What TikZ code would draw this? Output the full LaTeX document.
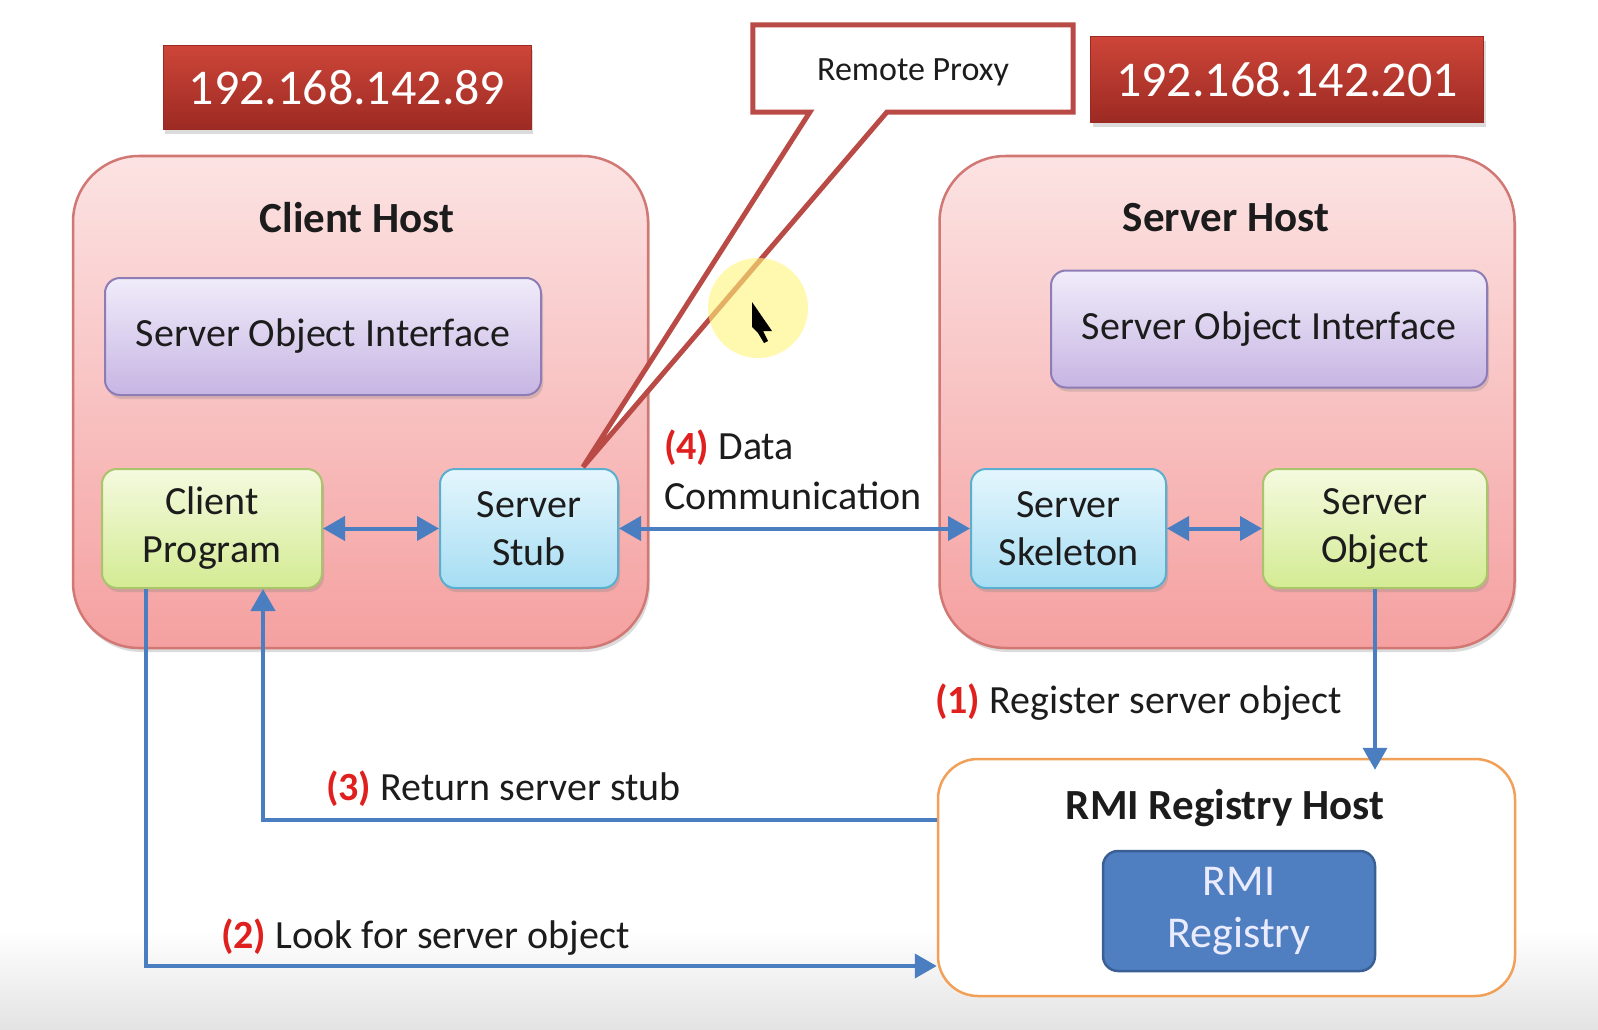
\documentclass[tikz,border=0pt]{standalone}
\usepackage{fontspec}
\setmainfont{Carlito}
\usetikzlibrary{shadows,arrows.meta,calc}
\definecolor{ipTop}{HTML}{CD4538}
\definecolor{ipBot}{HTML}{9C2A23}
\definecolor{hTop}{HTML}{FCE3E3}
\definecolor{hBot}{HTML}{F5A0A0}
\definecolor{hLine}{HTML}{D27874}
\definecolor{pTop}{HTML}{F0ECFA}
\definecolor{pBot}{HTML}{C7B5E3}
\definecolor{pLine}{HTML}{8E7CB6}
\definecolor{gTop}{HTML}{F4FADF}
\definecolor{gBot}{HTML}{D4EB93}
\definecolor{gLine}{HTML}{A9C46B}
\definecolor{bTop}{HTML}{E4F6FD}
\definecolor{bBot}{HTML}{A6DDF3}
\definecolor{bLine}{HTML}{5AAFD0}
\definecolor{orLine}{HTML}{F2A057}
\definecolor{regFill}{HTML}{4F7FC0}
\definecolor{regLine}{HTML}{3A5F95}
\definecolor{arrC}{HTML}{4A7EC0}
\definecolor{callC}{HTML}{B94A45}
\definecolor{numRed}{HTML}{E0201E}
\definecolor{txt}{HTML}{1C1C1C}
\definecolor{curY}{HTML}{FFF47A}
\newcommand{\boxfont}{\fontsize{40}{48}\selectfont}
\newcommand{\titlefont}{\fontsize{43}{50}\selectfont\bfseries}
\newcommand{\num}[1]{\textcolor{numRed}{\bfseries(#1)}}
\tikzset{
  shd/.style={drop shadow={opacity=0.28, shadow xshift=2pt, shadow yshift=-4pt}},
  ipbox/.style={top color=ipTop, bottom color=ipBot, draw=ipBot, line width=1pt, text=white,
    font=\fontsize{50}{60}\selectfont, inner sep=0pt, shd},
  hostbox/.style={rounded corners=66pt, top color=hTop, bottom color=hBot, draw=hLine,
    line width=2.5pt, minimum width=575pt, minimum height=492pt, shd},
  inbox/.style={rounded corners=15pt, line width=2pt, align=center, font=\boxfont, text=txt,
    inner sep=0pt, shd},
  pbox/.style={inbox, top color=pTop, bottom color=pBot, draw=pLine, minimum width=436pt, minimum height=117pt},
  gbox/.style={inbox, top color=gTop, bottom color=gBot, draw=gLine, minimum height=119pt},
  bbox/.style={inbox, top color=bTop, bottom color=bBot, draw=bLine, minimum height=119pt},
  title/.style={font=\titlefont, text=txt, inner sep=0pt},
  lbl/.style={font=\boxfont, text=txt, inner sep=0pt, anchor=west},
  arr/.style={draw=arrC, line width=4pt, arrows={-Triangle[length=22pt,width=24pt]}},
  darr/.style={draw=arrC, line width=4pt, arrows={Triangle[length=22pt,width=24pt]-Triangle[length=22pt,width=24pt]}},
}
\begin{document}
\begin{tikzpicture}[x=1pt,y=1pt]
\useasboundingbox (0,0) rectangle (1598,-1030);
\fill[white] (0,0) rectangle (1598,-1030);
\shade[top color=white, bottom color=black!11] (0,-930) rectangle (1598,-1030);

% hosts
\node[hostbox] (chost) at (360.5,-402) {};
\node[hostbox] (shost) at (1227,-402) {};
\node[title] (ctitle) at (357,-218) {Client Host};
\node[title] (stitle) at (1226,-218) {Server Host};

% inner boxes
\node[pbox] (csoi) at (323,-336.5) {Server Object Interface};
\node[pbox] (ssoi) at (1269,-329) {Server Object Interface};
\node[gbox, minimum width=220pt] (cprog) at (212,-528.5) {Client\\Program};
\node[bbox, minimum width=178pt] (stub) at (529,-528.5) {Server\\Stub};
\node[bbox, minimum width=195pt] (skel) at (1068.5,-528.5) {Server\\Skeleton};
\node[gbox, minimum width=224pt] (sobj) at (1375,-528.5) {Server\\Object};

% registry host
\node[rounded corners=40pt, draw=orLine, fill=white, line width=2.5pt,
      minimum width=577pt, minimum height=237pt] (rmihost) at (1226.5,-877.5) {};
\node[title] (rtitle) at (1225,-808) {RMI Registry Host};
\node[rounded corners=15pt, fill=regFill, draw=regLine, line width=2.5pt, text=white!92!blue,
      font=\fontsize{44}{52}\selectfont, align=center, inner sep=0pt,
      minimum width=272pt, minimum height=120pt] (rmireg) at (1239,-911) {RMI\\Registry};

% arrows
\draw[darr] (cprog.east) -- (stub.west);
\draw[darr] (stub.east) -- (skel.west);
\draw[darr] (skel.east) -- (sobj.west);
\draw[arr, shorten >=-12pt] (sobj.south) -- (sobj.south |- rmihost.north);
\coordinate (r3) at (263,-820);
\draw[arr] (rmihost.west |- r3) -- (r3) -- (r3 |- cprog.south);
\coordinate (l2) at (146,-966);
\draw[arr] (l2 |- cprog.south) -- (l2) -- (l2 -| rmihost.west);

% labels
\node[lbl] (l4a) at (664,-448) {\num{4} Data};
\node[lbl] (l4b) at (664,-496) {Communication};
\node[lbl] (l1) at (935,-702) {\num{1} Register server object};
\node[lbl] (l3) at (326,-789) {\num{3} Return server stub};
\node[lbl] (l2t) at (221,-937) {\num{2} Look for server object};

% callout
\node[minimum width=320pt, minimum height=87pt, inner sep=0pt] (proxy) at (913,-68.5) {};
\coordinate (tip) at (583,-467);
\filldraw[fill=white, draw=callC, line width=5pt, line join=miter]
  (proxy.north west) -- (proxy.north east) -- (proxy.south east)
  -- ($(proxy.south west)+(134,0)$) -- (tip) -- ($(proxy.south west)+(57,0)$)
  -- (proxy.south west) -- cycle;
\node[inner sep=0pt, text=txt, font=\fontsize{34}{40}\selectfont] (ptext) at ($(proxy)+(0,-4)$) {Remote Proxy};

% cursor highlight
\fill[curY, opacity=0.6] (758,-308) circle (50pt);
\coordinate (cur) at (752,-302);
\fill[black] (cur) -- ++(0,-25) -- ++(6,-6) -- ++(6,-10) -- ++(4,2) -- ++(-5,10) -- ++(9,0) -- cycle;

% IP boxes
\node[ipbox, minimum width=368pt, minimum height=84pt] (ip1) at (347,-88) {192.168.142.89};
\node[ipbox, minimum width=393pt, minimum height=86pt] (ip2) at (1287,-80) {192.168.142.201};
\end{tikzpicture}
\end{document}
